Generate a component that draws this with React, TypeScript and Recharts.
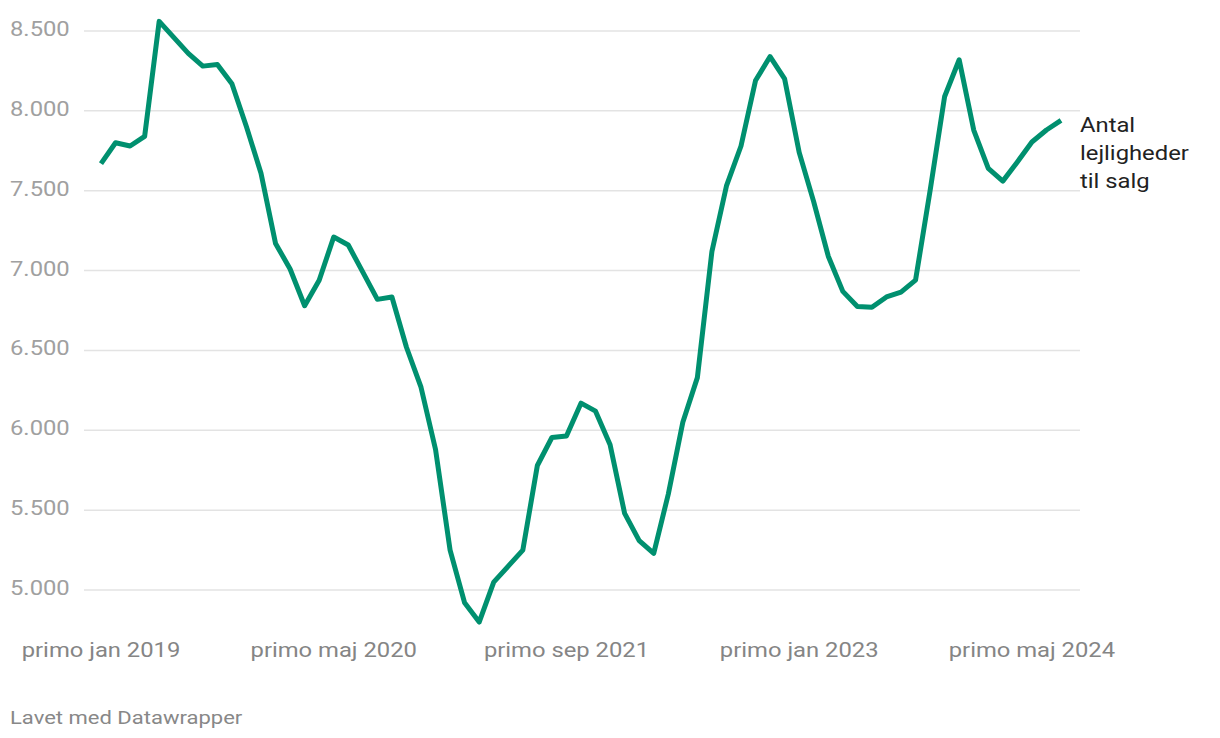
import React from 'react';
import { LineChart, Line, XAxis, YAxis, ReferenceLine } from 'recharts';

// Danish month abbreviations used for the categories
const MONTH_NAMES = ['jan', 'feb', 'mar', 'apr', 'maj', 'jun', 'jul', 'aug', 'sep', 'okt', 'nov', 'dec'];

// monthly from jan 2019 to jul 2024
const MONTHS: string[] = [];
for (let i = 0; i < 67; i++) {
    MONTHS.push(`${MONTH_NAMES[i % 12]} ${2019 + Math.floor(i / 12)}`);
}

const APARTMENTS_FOR_SALE = [
    7670, 7800, 7780, 7840, 8560, 8460, 8360, 8280, 8290, 8170, 7900, 7610,
    7170, 7010, 6780, 6940, 7210, 7160, 6990, 6820, 6835, 6520, 6270, 5880,
    5250, 4920, 4800, 5050, 5150, 5250, 5780, 5955, 5965, 6170, 6120, 5910,
    5480, 5310, 5230, 5600, 6050, 6330, 7120, 7530, 7780, 8190, 8340, 8200,
    7740, 7430, 7090, 6870, 6775, 6770, 6835, 6865, 6940, 7500, 8090, 8320,
    7880, 7640, 7560, 7680, 7805, 7880, 7940,
];

const Y_TICKS = [5000, 5500, 6000, 6500, 7000, 7500, 8000, 8500];
const SERIES_LABEL = ['Antal', 'lejligheder', 'til salg'];
const FOOTER = 'Lavet med Datawrapper';

const LINE_COLOR = '#00906f';
const FONT = 'Roboto, sans-serif';
const STRETCH = 1.19; // text in the reference is a bit wider than normal

const data = MONTHS.map((month, i) => ({ month, value: APARTMENTS_FOR_SALE[i] }));

const formatDa = (v: number) => String(v).replace(/\B(?=(\d{3})+(?!\d))/g, '.');

const YTick = ({ y, payload }: any) => (
    <text
        transform={`translate(10,${y + 5}) scale(${STRETCH},1)`}
        fontSize={20}
        fontFamily={FONT}
        fill="#a0a0a0"
        textAnchor="start"
    >
        {formatDa(payload.value)}
    </text>
);

const XTick = ({ x, payload }: any) => (
    <text
        transform={`translate(${x},657) scale(${STRETCH},1)`}
        fontSize={20}
        fontFamily={FONT}
        fill="#858585"
        textAnchor="middle"
    >
        {`primo ${payload.value}`}
    </text>
);

const EndLabel = (props: any) => {
    const { x, y, index } = props;
    if (index !== data.length - 1) return <g />;
    return (
        <g>
            {SERIES_LABEL.map((line, i) => (
                <text
                    key={line}
                    transform={`translate(${x + 19},${y + 12 + i * 28}) scale(${STRETCH},1)`}
                    fontSize={20}
                    fontFamily={FONT}
                    fill="#222"
                    textAnchor="start"
                >
                    {line}
                </text>
            ))}
        </g>
    );
};

export default function App() {
    return (
        <div style={{ position: 'absolute', left: 0, top: 0, width: 1220, height: 738, background: '#fff' }}>
            <LineChart
                width={1220}
                height={738}
                data={data}
                margin={{ top: 15, right: 140, left: 0, bottom: 60 }}
            >
                <XAxis
                    dataKey="month"
                    interval={15}
                    padding={{ left: 17, right: 19 }}
                    axisLine={false}
                    tickLine={false}
                    height={40}
                    tick={<XTick />}
                />
                <YAxis
                    domain={[4700, 8600]}
                    ticks={Y_TICKS}
                    width={84}
                    axisLine={false}
                    tickLine={false}
                    tick={<YTick />}
                />
                {Y_TICKS.map(t => (
                    <ReferenceLine key={t} y={t} stroke="#e3e3e3" strokeWidth={1.5} />
                ))}
                <Line
                    type="linear"
                    dataKey="value"
                    stroke={LINE_COLOR}
                    strokeWidth={5}
                    strokeLinejoin="round"
                    dot={false}
                    label={<EndLabel />}
                    isAnimationActive={false}
                />
            </LineChart>
            <svg width={1220} height={738} style={{ position: 'absolute', left: 0, top: 0, pointerEvents: 'none' }}>
                <text
                    transform={`translate(10,724) scale(${STRETCH},1)`}
                    fontSize={18.5}
                    fontFamily={FONT}
                    fill="#888"
                >
                    {FOOTER}
                </text>
            </svg>
        </div>
    );
}
